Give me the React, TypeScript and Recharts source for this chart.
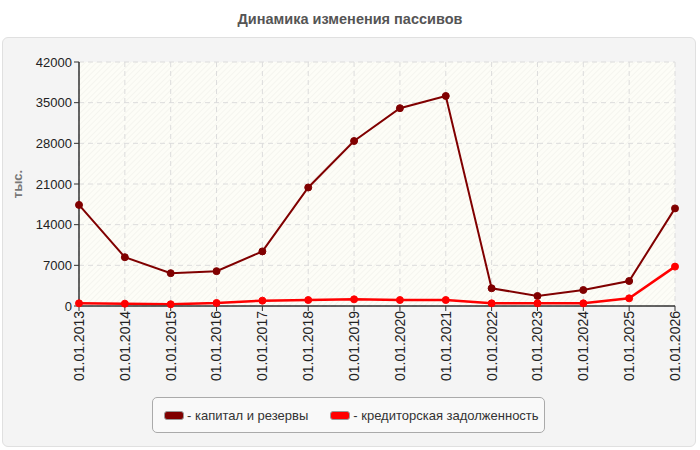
import { LineChart, Line, XAxis, YAxis, CartesianGrid, Label } from 'recharts';

const dates = [
  '01.01.2013', '01.01.2014', '01.01.2015', '01.01.2016', '01.01.2017',
  '01.01.2018', '01.01.2019', '01.01.2020', '01.01.2021', '01.01.2022',
  '01.01.2023', '01.01.2024', '01.01.2025', '01.01.2026',
];

// капитал и резервы
const capital = [17400, 8400, 5650, 6000, 9400, 20400, 28400, 34050, 36150, 3050, 1720, 2750, 4300, 16800];
// кредиторская задолженность
const payables = [460, 400, 300, 520, 920, 1030, 1150, 1030, 1030, 460, 460, 460, 1320, 6780];

const yTicks = [0, 7000, 14000, 21000, 28000, 35000, 42000];

const seriesNames = ['капитал и резервы', 'кредиторская задолженность'];
const seriesColors = ['#800000', '#ff0000'];

const FONT = '"Liberation Sans", Arial, sans-serif';

export default function App() {
  const data = dates.map((d, i) => ({ date: d, capital: capital[i], payables: payables[i] }));

  return (
    <div style={{ position: 'absolute', left: 0, top: 0, width: 700, height: 450, background: '#fff', fontFamily: FONT }}>
      {/* заголовок */}
      <div
        style={{
          position: 'absolute', left: 0, top: 11, width: 700, textAlign: 'center',
          fontSize: 14.5, fontWeight: 'bold', color: '#555',
        }}
      >
        Динамика изменения пассивов
      </div>

      {/* фон панели */}
      <div
        style={{
          position: 'absolute', left: 2, top: 37, width: 694, height: 410,
          background: '#f4f4f4', border: '1px solid #e0e0e0', borderRadius: 6, boxSizing: 'border-box',
        }}
      />

      <div style={{ position: 'absolute', left: 0, top: 0 }}>
        <LineChart width={700} height={450} data={data} margin={{ top: 62, right: 25, bottom: 0, left: 0 }}>
          <defs>
            <pattern id="hatch" width="4" height="4" patternUnits="userSpaceOnUse" patternTransform="rotate(45)">
              <rect width="4" height="4" fill="#fdfdf7" />
              <line x1="0" y1="0" x2="0" y2="4" stroke="#eeeee8" strokeWidth="1" />
            </pattern>
          </defs>
          <CartesianGrid
            stroke="#dcdcdc"
            strokeDasharray="5 4"
            fill="url(#hatch)"
            fillOpacity={1}
          />
          <XAxis
            dataKey="date"
            height={144}
            interval={0}
            padding={{ left: 0, right: 0 }}
            tick={{ fontSize: 14, fill: '#222', fontFamily: FONT, angle: -90, textAnchor: 'end', dx: -5, dy: -2 }}
            tickLine={{ stroke: '#333' }}
            tickSize={5}
            axisLine={{ stroke: '#333', strokeWidth: 1.5 }}
          />
          <YAxis
            width={79}
            domain={[0, 42000]}
            ticks={yTicks}
            interval={0}
            tick={{ fontSize: 13, fill: '#222', fontFamily: FONT }}
            tickLine={{ stroke: '#333' }}
            tickSize={5}
            axisLine={{ stroke: '#333', strokeWidth: 1.5 }}
          >
            <Label
              value="тыс."
              angle={-90}
              position="insideLeft"
              offset={17}
              style={{ fontSize: 13, fontWeight: 'bold', fill: '#777', fontFamily: FONT, textAnchor: 'middle' }}
            />
          </YAxis>
          <Line
            type="linear"
            dataKey="capital"
            name={seriesNames[0]}
            stroke={seriesColors[0]}
            strokeWidth={2}
            dot={{ r: 3.5, fill: seriesColors[0], stroke: seriesColors[0], strokeWidth: 1 }}
            isAnimationActive={false}
          />
          <Line
            type="linear"
            dataKey="payables"
            name={seriesNames[1]}
            stroke={seriesColors[1]}
            strokeWidth={2.5}
            dot={{ r: 3.5, fill: seriesColors[1], stroke: seriesColors[1], strokeWidth: 1 }}
            isAnimationActive={false}
          />
        </LineChart>
      </div>

      {/* легенда */}
      <div
        style={{
          position: 'absolute', left: 152, top: 397, width: 393, height: 36,
          background: '#f9f9f9', border: '1px solid #aaa', borderRadius: 5, boxSizing: 'border-box',
          display: 'flex', alignItems: 'center', paddingLeft: 11, fontSize: 13, color: '#333',
          whiteSpace: 'nowrap',
        }}
      >
        {seriesNames.map((name, i) => (
          <div key={name} style={{ display: 'flex', alignItems: 'center', marginRight: i === 0 ? 22 : 0 }}>
            <span
              style={{
                display: 'inline-block', width: 18, height: 7, background: seriesColors[i],
                border: '1px solid #999', borderRadius: 3, marginRight: 3,
              }}
            />
            <span>- {name}</span>
          </div>
        ))}
      </div>
    </div>
  );
}
